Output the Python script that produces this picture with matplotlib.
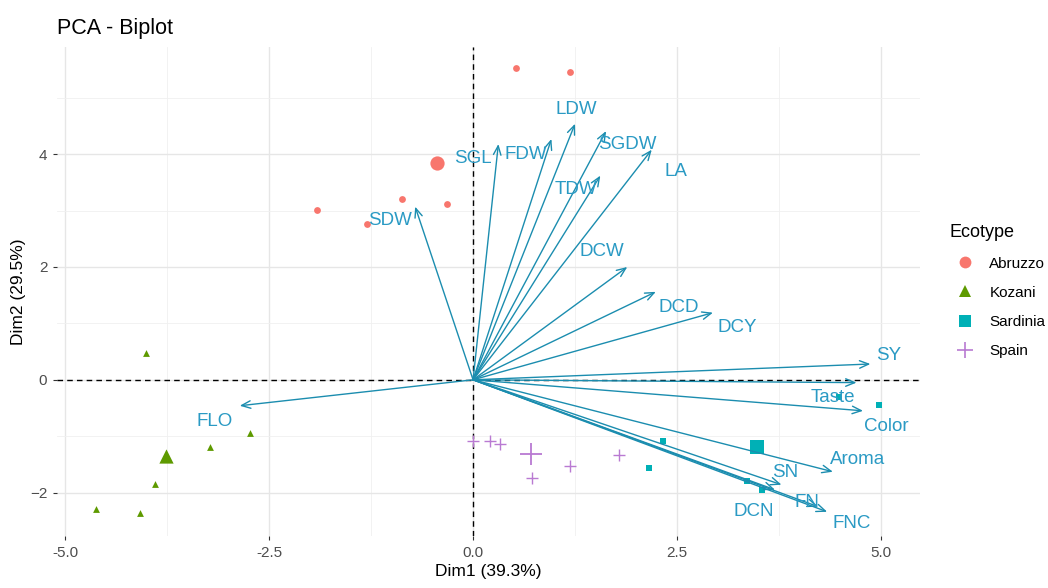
import numpy as np
import matplotlib
matplotlib.use('Agg')
import matplotlib.pyplot as plt
from matplotlib.lines import Line2D

plt.rcParams['font.family'] = ['Liberation Sans', 'DejaVu Sans']

# individuals per ecotype (Dim1, Dim2)
abruzzo_x = [0.53, 1.19, -0.87, -0.32, -1.91, -1.30]
abruzzo_y = [5.53, 5.46, 3.21, 3.12, 3.01, 2.77]
kozani_x = [-4.01, -3.22, -2.74, -3.90, -4.62, -4.08]
kozani_y = [0.48, -1.19, -0.94, -1.84, -2.29, -2.36]
sardinia_x = [2.33, 2.16, 3.36, 3.54, 4.98, 4.49]
sardinia_y = [-1.08, -1.57, -1.79, -1.95, -0.44, -0.30]
spain_x = [0.00, 0.21, 0.33, 0.72, 1.19, 1.79]
spain_y = [-1.09, -1.08, -1.14, -1.74, -1.53, -1.34]

# variable loadings (arrow tips)
var_names = ['SGL', 'FDW', 'LDW', 'SGDW', 'LA', 'TDW', 'DCW', 'DCD', 'DCY', 'SY',
             'SDW', 'FLO', 'Taste', 'Color', 'Aroma', 'SN', 'DCN', 'FN', 'FNC']
var_x = [0.31, 0.96, 1.25, 1.63, 2.19, 1.56, 1.89, 2.24, 2.94, 4.87,
         -0.71, -2.86, 4.70, 4.78, 4.41, 3.78, 3.70, 4.23, 4.34]
var_y = [4.18, 4.27, 4.54, 4.41, 4.08, 3.62, 2.00, 1.56, 1.19, 0.28,
         3.07, -0.46, -0.05, -0.55, -1.63, -1.86, -1.95, -2.25, -2.34]
# repelled label positions
lab_x = [0.00, 0.65, 1.27, 1.89, 2.49, 1.26, 1.58, 2.52, 3.24, 5.09,
         -1.02, -3.17, 4.41, 5.07, 4.71, 3.82, 3.44, 4.09, 4.64]
lab_y = [3.92, 3.99, 4.79, 4.17, 3.69, 3.37, 2.27, 1.29, 0.92, 0.43,
         2.82, -0.74, -0.32, -0.83, -1.42, -1.65, -2.34, -2.18, -2.54]

groups = ['Abruzzo', 'Kozani', 'Sardinia', 'Spain']
colors = ['#F8766D', '#5E9A00', '#00B0B6', '#B97AD2']
markers = ['o', '^', 's', '+']
xs = [abruzzo_x, kozani_x, sardinia_x, spain_x]
ys = [abruzzo_y, kozani_y, sardinia_y, spain_y]

arrow_col = '#1B8DAF'
text_col = '#2A9AC4'

fig = plt.figure(figsize=(10.48, 5.88), dpi=100)
ax = fig.add_axes([0.0544, 0.0884, 0.8236, 0.8316])

ax.set_xlim(-5.10, 5.48)
ax.set_ylim(-2.77, 5.90)

# grid like theme_minimal
ax.set_xticks([-5.0, -2.5, 0.0, 2.5, 5.0])
ax.set_yticks([-2, 0, 2, 4])
ax.set_xticks([-3.75, -1.25, 1.25, 3.75], minor=True)
ax.set_yticks([-1, 1, 3, 5], minor=True)
ax.grid(which='major', color='#e6e6e6', lw=1.0)
ax.grid(which='minor', color='#f0f0f0', lw=0.6)
ax.set_axisbelow(True)
for s in ax.spines.values():
    s.set_visible(False)
ax.set_xticklabels(['-5.0', '-2.5', '0.0', '2.5', '5.0'])
ax.tick_params(which='major', length=3, color='#333333', labelsize=11,
               labelcolor='#4d4d4d', pad=4)
ax.tick_params(which='minor', length=0)

ax.axhline(0, color='black', ls='--', lw=1.0, dashes=(4, 3), zorder=2)
ax.axvline(0, color='black', ls='--', lw=1.0, dashes=(4, 3), zorder=2)

# individuals, the big marker is the group mean
for g, c, m, x, y in zip(groups, colors, markers, xs, ys):
    if m == '+':
        ax.scatter(x, y, marker=m, s=70, color=c, linewidths=1.0, zorder=3)
        ax.scatter(np.mean(x), np.mean(y), marker=m, s=240, color=c, linewidths=1.3, zorder=3)
    else:
        ax.scatter(x, y, marker=m, s=24, color=c, linewidths=0, zorder=3)
        ax.scatter(np.mean(x), np.mean(y), marker=m, s=105, color=c, linewidths=0, zorder=3)

# variable arrows
for name, x, y, lx, ly in zip(var_names, var_x, var_y, lab_x, lab_y):
    ax.annotate('', xy=(x, y), xytext=(0, 0),
                arrowprops=dict(arrowstyle='->,head_length=0.65,head_width=0.27',
                                color=arrow_col, lw=1.0, shrinkA=0, shrinkB=0),
                zorder=4)
    ax.text(lx, ly, name, color=text_col, fontsize=13.5, ha='center', va='center', zorder=5)

ax.set_xlabel('Dim1 (39.3%)', fontsize=12.5, labelpad=3)
ax.set_ylabel('Dim2 (29.5%)', fontsize=12.5, labelpad=3)
fig.text(0.0544, 0.952, 'PCA - Biplot', fontsize=15.5, ha='left', va='center')

handles = []
for g, c, m in zip(groups, colors, markers):
    if m == '+':
        handles.append(Line2D([], [], marker=m, color=c, ls='', markersize=11, markeredgewidth=1.2))
    else:
        handles.append(Line2D([], [], marker=m, color=c, ls='', markersize=8.5, markeredgewidth=0))
leg = fig.legend(handles=handles, labels=groups, title='Ecotype', loc='upper left',
                 bbox_to_anchor=(0.893, 0.642), frameon=False, fontsize=11,
                 title_fontsize=13, labelspacing=1.0, handletextpad=0.6,
                 alignment='left')

fig.savefig('out.png', dpi=100)
